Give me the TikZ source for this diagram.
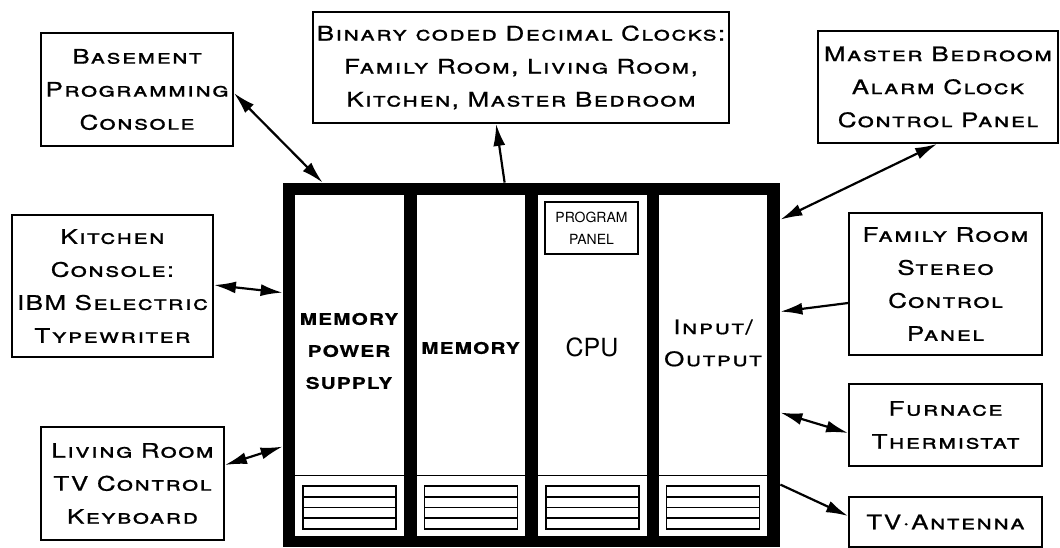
\documentclass[tikz,border=0pt]{standalone}
\usepackage{fontspec}
\setmainfont{TeX Gyre Heros}
\newfontfamily\cpfont{TeX Gyre Heros}[FakeStretch=1.3,LetterSpace=7,FakeBold=0.8]
\usetikzlibrary{arrows.meta,calc}

\tikzset{
  box/.style={draw, line width=0.9pt, inner sep=0pt, align=center,
    font=\cpfont\fontsize{10}{16.5}\selectfont\scshape},
  col/.style={fill=white, inner sep=0pt, minimum width=54.25pt, minimum height=170.5pt},
  link/.style={line width=1.1pt, -{Latex[length=11pt,width=6pt]}},
  both/.style={line width=1.1pt, {Latex[length=11pt,width=6pt]}-{Latex[length=11pt,width=6pt]}},
}

\begin{document}
\begin{tikzpicture}[x=0.5pt, y=-0.5pt]
\useasboundingbox (0,0) rectangle (1060,547);
% armadio
\node[fill=black, inner sep=0pt, minimum width=248.5pt, minimum height=182pt] (cab) at (531.5,365) {};
\foreach \n/\l in {a/295, b/416.5, c/538, d/658.5} {
  \node[col] (col\n) at (\l+54.25,365.5) {};
  \draw[line width=0.5pt] (\l,475) -- (\l+108.5,475);
  \draw[line width=0.8pt] (\l+8,486) rectangle (\l+101,529);
  \foreach \y in {497,507.5,518}
    \draw[line width=0.8pt] (\l+8,\y) -- (\l+101,\y);
}
\node[align=center, font=\cpfont\bfseries\fontsize{8}{16}\selectfont] (mps) at (349,351) {MEMORY\\POWER\\SUPPLY};
\node[font=\cpfont\bfseries\fontsize{8}{16}\selectfont] (mem) at (470.5,348) {MEMORY};
\node[draw, line width=0.8pt, inner sep=0pt, minimum width=46.5pt, minimum height=26pt,
  align=center, font=\fontsize{7}{11}\selectfont] (panel) at (591.5,228) {PROGRAM\\PANEL};
\node[font=\fontsize{12.5}{14}\selectfont] (cpu) at (592,347) {CPU};
\node[align=center, font=\cpfont\fontsize{10}{16}\selectfont\scshape] (io) at (713,343) {Input/\\Output};
% scatole
\node[box, minimum width=96pt, minimum height=56.5pt] (base) at (137,89.5) {Basement\\Programming\\Console};
\node[box, minimum width=208pt, minimum height=55.5pt] (bcd) at (521,67.5) {Binary coded Decimal Clocks:\\Family Room, Living Room,\\Kitchen, Master Bedroom};
\node[box, minimum width=120pt, minimum height=56pt] (master) at (938,87) {Master Bedroom\\Alarm Clock\\Control Panel};
\node[box, minimum width=96.5pt, minimum height=71pt] (family) at (945.5,284) {Family Room\\Stereo\\Control\\Panel};
\node[box, minimum width=96.5pt, minimum height=41pt] (furnace) at (945.5,425) {Furnace\\Thermistat};
\node[box, minimum width=96.5pt, minimum height=25pt] (tvant) at (945.5,522) {TV·Antenna};
\node[box, minimum width=100.5pt, minimum height=71pt] (kitchen) at (112.5,286) {Kitchen\\Console:\\IBM Selectric\\Typewriter};
\node[box, minimum width=91.5pt, minimum height=56.5pt] (living) at (132.5,483.5) {Living Room\\TV Control\\Keyboard};
% frecce
\draw[both] ($(base.east)+(0,3.5)$) -- ($(cab.north west)+(40,0)$);
\draw[link] ($(cab.north west)+(222,0)$) -- ($(bcd.south west)+(184,0)$);
\draw[both] ($(cab.north east)+(0,37)$) -- ($(master.south west)+(120,0)$);
\draw[link] ($(family.west)+(0,19)$) -- ($(cab.north east)+(0,129)$);
\draw[both] ($(cab.north east)+(0,230)$) -- ($(furnace.west)+(0,8)$);
\draw[link] ($(cab.north east)+(0,302)$) -- ($(tvant.west)+(0,-6)$);
\draw[both] ($(kitchen.east)+(0,-1)$) -- ($(cab.north west)+(0,110)$);
\draw[both] ($(living.east)+(0,-18.5)$) -- ($(cab.north west)+(0,264)$);
\end{tikzpicture}
\end{document}
